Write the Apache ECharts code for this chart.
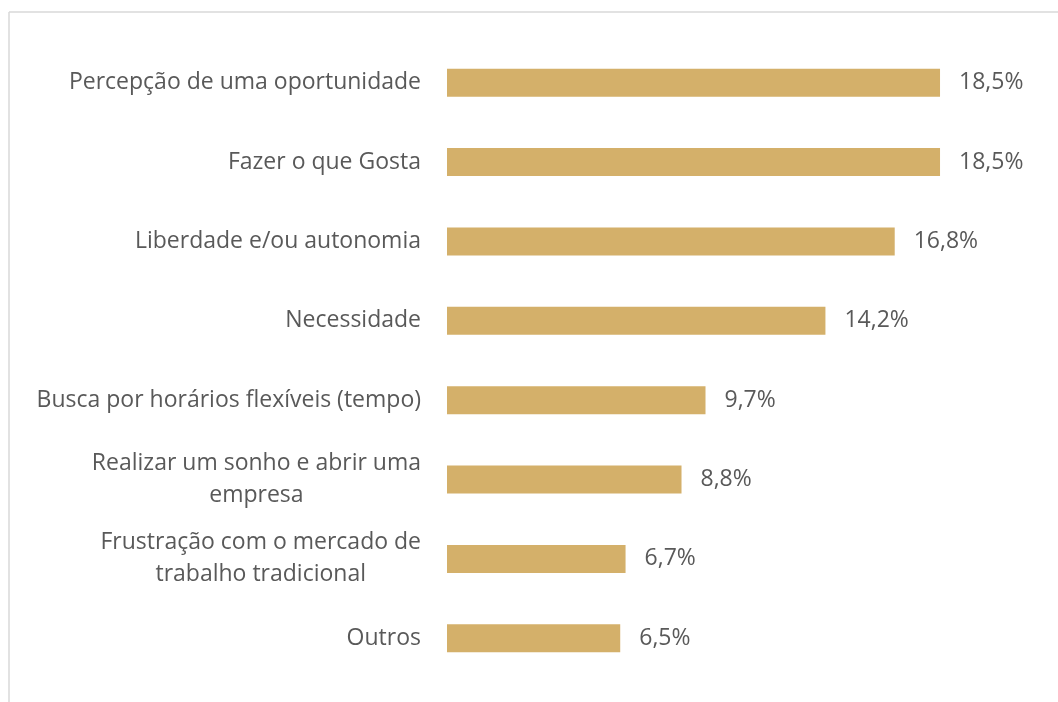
<!DOCTYPE html>
<html>
<head>
<meta charset="utf-8">
<script src="https://cdn.jsdelivr.net/npm/echarts@6/dist/echarts.min.js"></script>
<style>
  html, body { margin: 0; padding: 0; background: #fff; }
  #chart { width: 1058px; height: 702px; }
</style>
</head>
<body>
<div id="chart"></div>
<script>
// categories top to bottom
const categories = [
  'Percepção de uma oportunidade',
  'Fazer o que Gosta',
  'Liberdade e/ou autonomia',
  'Necessidade',
  'Busca por horários flexíveis (tempo)',
  'Realizar um sonho e abrir uma\nempresa',
  'Frustração com o mercado de\ntrabalho tradicional',
  'Outros'
]
const values = [18.5, 18.5, 16.8, 14.2, 9.7, 8.8, 6.7, 6.5]

const FONT = 'Open Sans'
const SIZE = 23

// centre the lines of two-line labels: pad each shorter line on the right
const ctx = document.createElement('canvas').getContext('2d')
ctx.font = SIZE + 'px "' + FONT + '"'
const rich = {
  t: { fontFamily: FONT, fontSize: SIZE, color: '#595959', lineHeight: 32 }
}
const labelText = {}
categories.forEach((cat, i) => {
  const lines = cat.split('\n')
  if (lines.length === 1) { labelText[cat] = '{t|' + cat + '}'; return }
  const widths = lines.map(s => ctx.measureText(s).width)
  const maxW = Math.max(...widths)
  labelText[cat] = lines.map((s, j) => {
    const pad = (maxW - widths[j]) / 2
    if (pad < 1) return '{t|' + s + '}'
    const key = 'p' + i + '_' + j
    rich[key] = { width: pad, fontSize: SIZE, lineHeight: 32 }
    return '{t|' + s + '}{' + key + '| }'
  }).join('\n')
})

const chart = echarts.init(document.getElementById('chart'))

const option = {
  animation: false,
  backgroundColor: '#fff',
  graphic: [
    { type: 'line', shape: { x1: 9, y1: 12, x2: 1058, y2: 12 }, style: { stroke: '#d9d9d9', lineWidth: 1.5 } },
    { type: 'line', shape: { x1: 9, y1: 12, x2: 9, y2: 702 }, style: { stroke: '#d9d9d9', lineWidth: 1.5 } }
  ],
  grid: {
    left: 447,
    top: 43,
    width: 533,
    height: 635
  },
  xAxis: {
    type: 'value',
    min: 0,
    max: 20,
    show: false
  },
  yAxis: {
    type: 'category',
    inverse: true,
    data: categories,
    axisLine: { show: false },
    axisTick: { show: false },
    axisLabel: {
      margin: 26,
      fontFamily: FONT,
      fontSize: SIZE,
      color: '#595959',
      lineHeight: 32,
      formatter: v => labelText[v],
      rich: rich
    }
  },
  series: [
    {
      type: 'bar',
      data: values,
      barWidth: 28,
      itemStyle: { color: '#D4B06A' },
      label: {
        show: true,
        position: 'right',
        distance: 19,
        fontFamily: FONT,
        fontSize: SIZE,
        color: '#595959',
        formatter: p => p.value.toFixed(1).replace('.', ',') + '%'
      }
    }
  ]
}

chart.setOption(option)
</script>
</body>
</html>
